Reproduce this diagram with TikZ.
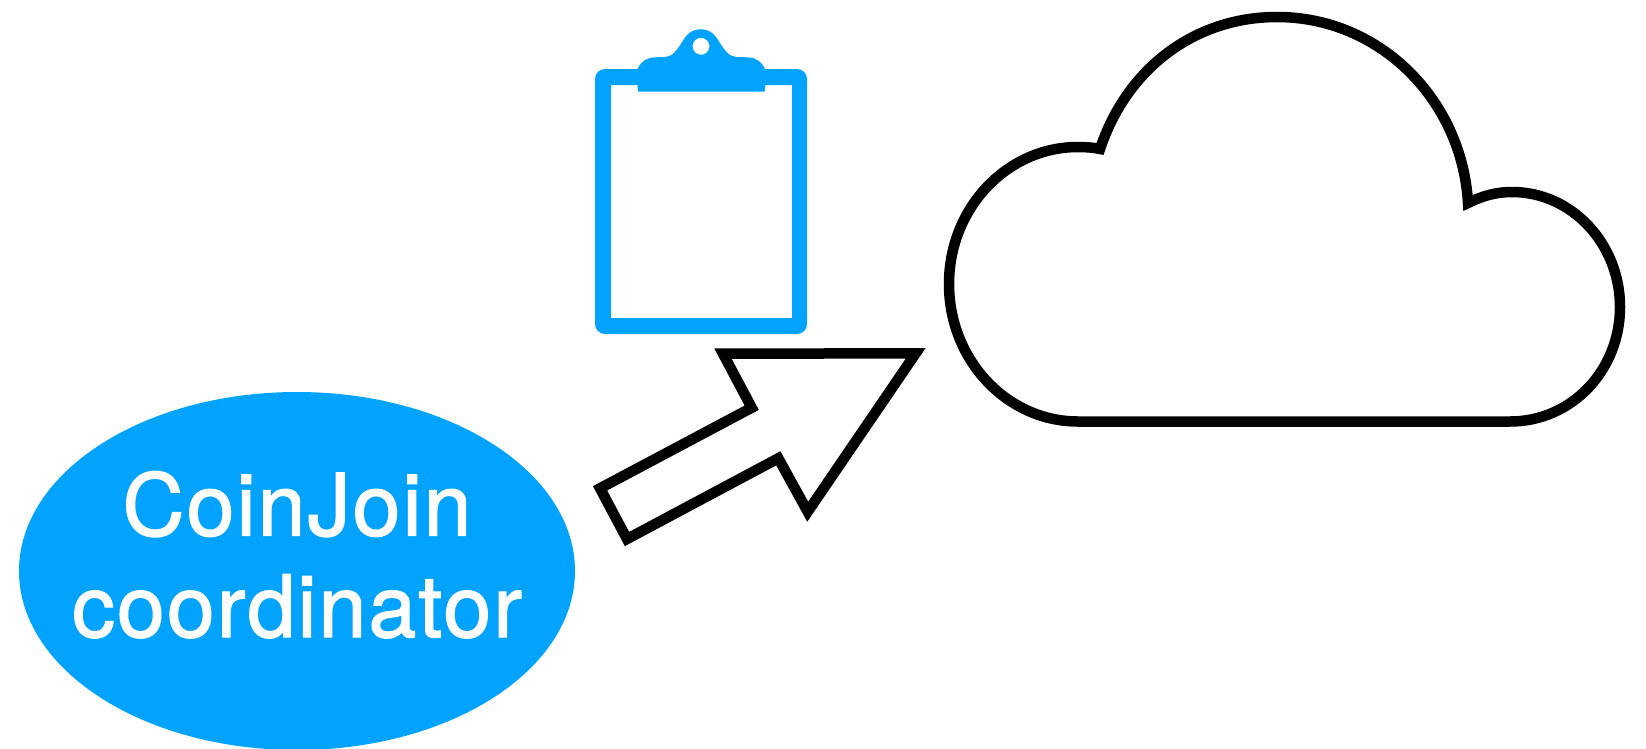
\documentclass[tikz,border=0pt]{standalone}
\usepackage{fontspec}
\setmainfont{TeX Gyre Heros}
\newfontfamily\labelfont[FakeBold=1.5,LetterSpace=2.4]{TeX Gyre Heros}
\usepackage{xcolor}
\usetikzlibrary{shapes.geometric}
\definecolor{boardblue}{RGB}{2,163,255}
\tikzset{
  coordinator/.style={ellipse,fill=boardblue,text=white,align=center,inner xsep=-60pt,inner ysep=-20pt,minimum width=556pt,minimum height=358pt,text height=132pt,text depth=0pt,font=\labelfont\fontsize{86}{101.5}\selectfont},
  outline/.style={draw=black,line width=10.5pt,fill=white,miter limit=10}
}

\begin{document}
\begin{tikzpicture}[x=1pt,y=-1pt]
    \useasboundingbox (0,0) rectangle (1646,748);
    \node [coordinator] (c) at (297,571) {CoinJoin\\coordinator};
    % clipboard
    \fill [boardblue,even odd rule,rounded corners=10pt] (595,69) rectangle (807,334) [sharp corners] (611,85) rectangle (792,318);
    \fill [boardblue,even odd rule] (638.3,91.7)--(637.5,85)--(637.5,69)
        .. controls (641,61) and (648,57.3) .. (655,57.3)--(665,57)
        .. controls (672,57) and (677,50) .. (681.5,43)
        .. controls (686,35) and (691,29.3) .. (700.7,29.3)
        .. controls (710.4,29.3) and (715.4,35) .. (719.9,43)
        .. controls (724.4,50) and (729.4,57) .. (736.4,57)--(748,57.3)
        .. controls (755,57.3) and (761,61) .. (765,69)--(765.5,85)--(764.5,91.7)--cycle
        (701,46.3) circle (8.5pt);
    % arrow
    \draw [outline] (600,488.3)--(751.7,407.7)--(723,353.7)--(915.7,353.3)--(807.7,511.7)--(778.3,458.3)--(627,539)--cycle;
    % cloud
    \draw [outline] (1078,421.5)
        .. controls (1007,421.5) and (949,360) .. (949,284)
        .. controls (949,208) and (1007,147) .. (1078,147)
        .. controls (1086,147) and (1093,147.5) .. (1100,149)
        .. controls (1127,68) and (1195,17) .. (1277,17)
        .. controls (1380,17) and (1462,100) .. (1468,203)
        .. controls (1482,196) and (1496,192) .. (1512,192)
        .. controls (1572,192) and (1620,244) .. (1620,307)
        .. controls (1620,370) and (1572,421.5) .. (1510,421.5)--cycle;
\end{tikzpicture}
\end{document}
